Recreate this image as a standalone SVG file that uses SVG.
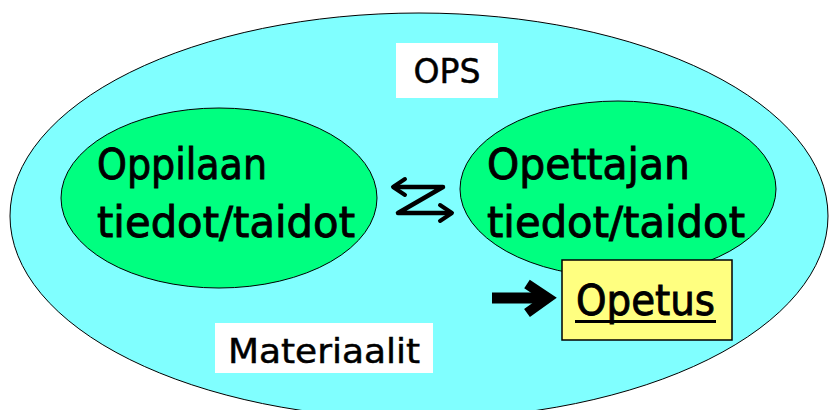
<svg xmlns="http://www.w3.org/2000/svg" width="829" height="410" viewBox="0 0 829 410">
<defs>
<style>
.t{font-family:"DejaVu Sans","Liberation Sans",sans-serif;fill:#000}
.big{font-size:42px;stroke:#000;stroke-width:0.9}
.lab{font-size:34px;stroke:#000;stroke-width:0.5}
</style>
</defs>
<rect width="829" height="410" fill="#ffffff"/>
<g id="ops-area">
<ellipse cx="419" cy="216" rx="409" ry="203" fill="#80ffff" stroke="#000" stroke-width="1"/>
</g>
<g id="ops">
<rect x="396" y="43" width="102" height="55" fill="#fff"/>
<text class="t lab" x="447" y="83" text-anchor="middle" textLength="67" lengthAdjust="spacingAndGlyphs">OPS</text>
</g>
<g id="oppilaan">
<ellipse cx="219" cy="198" rx="158" ry="90" fill="#00ff80" stroke="#000" stroke-width="1"/>
<text class="t big" x="97" y="179" textLength="170" lengthAdjust="spacingAndGlyphs">Oppilaan</text>
<text class="t big" x="97" y="237" textLength="258" lengthAdjust="spacingAndGlyphs">tiedot/taidot</text>
</g>
<g id="opettajan">
<ellipse cx="618" cy="189" rx="158" ry="88" fill="#00ff80" stroke="#000" stroke-width="1"/>
<text class="t big" x="487" y="179" textLength="203" lengthAdjust="spacingAndGlyphs">Opettajan</text>
<text class="t big" x="487" y="237" textLength="258" lengthAdjust="spacingAndGlyphs">tiedot/taidot</text>
</g>
<g id="opetus">
<rect x="562" y="260" width="170" height="80" fill="#ffff80" stroke="#000" stroke-width="1.5"/>
<text class="t big" x="576" y="315" textLength="139" lengthAdjust="spacingAndGlyphs">Opetus</text>
<rect x="575" y="320" width="141" height="3" fill="#000"/>
</g>
<g id="materiaalit">
<rect x="215" y="323" width="218" height="50" fill="#fff"/>
<text class="t lab" x="228" y="363" textLength="192" lengthAdjust="spacingAndGlyphs">Materiaalit</text>
</g>
<g id="connectors">
<path d="M394 187 H443 L398 213 H450" fill="none" stroke="#000" stroke-width="4.5" stroke-linejoin="round" stroke-linecap="round"/>
<path d="M405 179 L393 187 L405 195" fill="none" stroke="#000" stroke-width="4" stroke-linecap="round" stroke-linejoin="round"/>
<path d="M440 205 L452 213 L440 221" fill="none" stroke="#000" stroke-width="4" stroke-linecap="round" stroke-linejoin="round"/>
<path d="M492 298 H540" stroke="#000" stroke-width="11"/>
<path d="M527 284 L548 298 L527 313" fill="none" stroke="#000" stroke-width="10" stroke-linejoin="miter"/>
</g>
</svg>
